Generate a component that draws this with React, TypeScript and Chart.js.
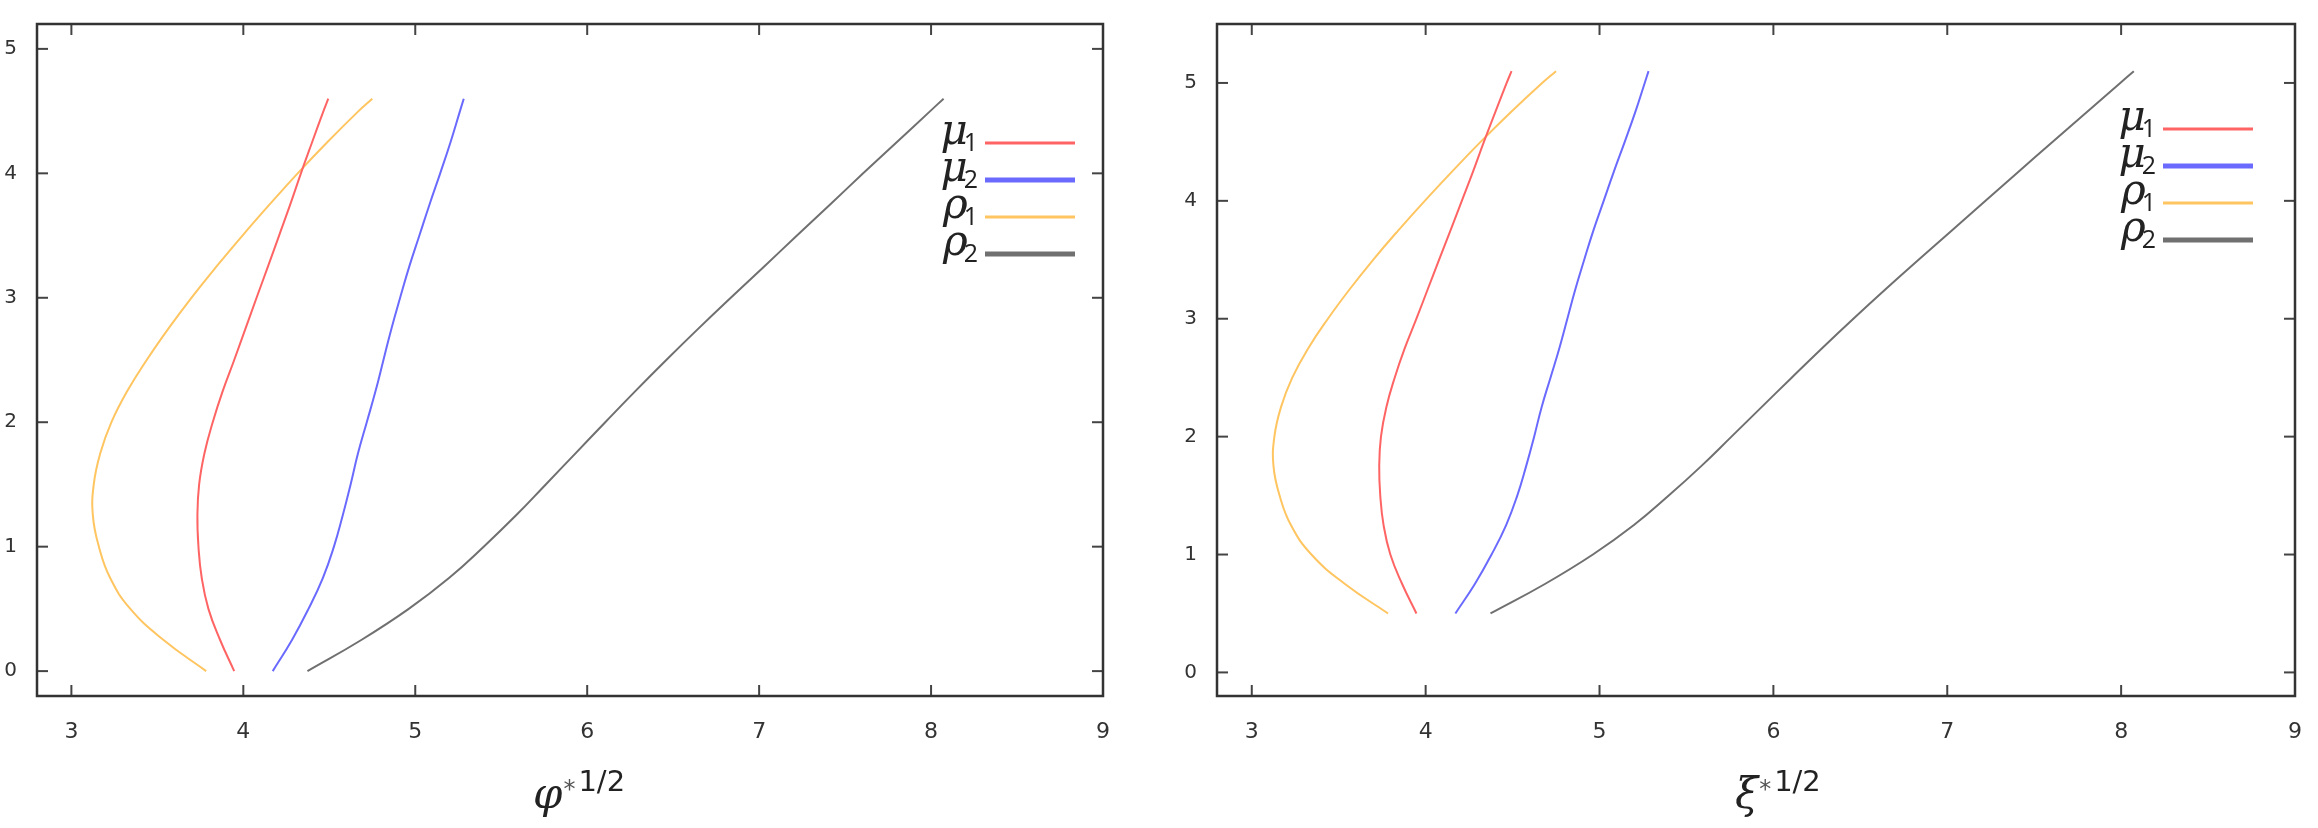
import React, { useEffect, useRef } from 'react';
import { Chart, registerables } from 'chart.js';

Chart.register(...registerables);

// ---- data ----
const xTicks = [3, 4, 5, 6, 7, 8, 9];
const yTicks = [0, 1, 2, 3, 4, 5];

const yLevelsLeft = [0, 0.25, 0.5, 0.75, 1, 1.25, 1.5, 1.75, 2, 2.25, 2.5, 2.75, 3, 3.25, 3.5, 3.75, 4, 4.25, 4.5, 4.6];
const yLevelsRight = [0.5, 0.75, 1, 1.25, 1.5, 1.75, 2, 2.25, 2.5, 2.75, 3, 3.25, 3.5, 3.75, 4, 4.25, 4.5, 4.75, 5, 5.1];

const mu1X = [3.947, 3.865, 3.797, 3.758, 3.739, 3.733, 3.743, 3.774, 3.822, 3.88, 3.947, 4.012, 4.077, 4.143, 4.208, 4.273, 4.335, 4.4, 4.466, 4.494];
const mu2X = [4.171, 4.283, 4.379, 4.463, 4.527, 4.578, 4.624, 4.667, 4.718, 4.769, 4.815, 4.861, 4.912, 4.965, 5.024, 5.083, 5.145, 5.205, 5.26, 5.282];
const rho1X = [3.784, 3.536, 3.343, 3.225, 3.16, 3.125, 3.13, 3.168, 3.233, 3.325, 3.438, 3.563, 3.698, 3.843, 3.995, 4.153, 4.316, 4.488, 4.67, 4.75];
const rho2X = [4.373, 4.686, 4.962, 5.198, 5.398, 5.585, 5.759, 5.932, 6.105, 6.28, 6.46, 6.645, 6.835, 7.028, 7.22, 7.413, 7.605, 7.8, 7.995, 8.073];

const seriesX = [mu1X, mu2X, rho1X, rho2X];
const seriesLetters = ['μ', 'μ', 'ρ', 'ρ'];
const seriesSubs = ['1', '2', '1', '2'];
const seriesColors = ['#ff6464', '#6a6aff', '#ffc560', '#707070'];
const legendLineWidths = [3, 5, 3, 5];

const axisLetters = ['φ', 'ξ'];
const axisSup = '1/2';

type Panel = {
  left: number;
  width: number;
  padTop: number;
  padRight: number;
  yWidth: number;
  yMax: number;
  yLevels: number[];
  letter: string;
  titleOffset: number;
  legendEnd: number;
  legendTop: number;
};

const panels: Panel[] = [
  { left: 0, width: 1160, padTop: 23, padRight: 57, yWidth: 37, yMax: 5.2, yLevels: yLevelsLeft, letter: axisLetters[0], titleOffset: -37, legendEnd: 1075, legendTop: 143 },
  { left: 1160, width: 1158, padTop: 16, padRight: 23, yWidth: 57, yMax: 5.5, yLevels: yLevelsRight, letter: axisLetters[1], titleOffset: -21, legendEnd: 1093, legendTop: 129 },
];

function makePlugin(p: Panel) {
  return {
    id: 'gnuframe',
    afterDraw(chart: any) {
      const { ctx, chartArea: a, scales } = chart;
      const xs = scales.x;
      const ys = scales.y;
      const line = (x1: number, y1: number, x2: number, y2: number) => {
        ctx.beginPath();
        ctx.moveTo(x1, y1);
        ctx.lineTo(x2, y2);
        ctx.stroke();
      };
      ctx.save();
      // inside ticks on all four sides
      ctx.strokeStyle = '#444';
      ctx.lineWidth = 2;
      xTicks.forEach((v) => {
        const px = xs.getPixelForValue(v);
        line(px, a.bottom, px, a.bottom - 11);
        line(px, a.top, px, a.top + 11);
      });
      yTicks.forEach((v) => {
        const py = ys.getPixelForValue(v);
        line(a.left, py, a.left + 11, py);
        line(a.right, py, a.right - 11, py);
      });
      // frame
      ctx.strokeStyle = '#333';
      ctx.lineWidth = 2.5;
      ctx.strokeRect(a.left, a.top, a.right - a.left, a.bottom - a.top);

      // legend
      ctx.textBaseline = 'alphabetic';
      ctx.textAlign = 'left';
      seriesLetters.forEach((letter, i) => {
        const y = p.legendTop + i * 37;
        const lineStart = p.legendEnd - 90;
        ctx.strokeStyle = seriesColors[i];
        ctx.lineWidth = legendLineWidths[i];
        line(lineStart, y, p.legendEnd, y);
        ctx.fillStyle = '#222';
        ctx.font = '25px "Open Sans"';
        const sw = ctx.measureText(seriesSubs[i]).width;
        const sx = lineStart - 7 - sw;
        ctx.fillText(seriesSubs[i], sx, y + 8);
        ctx.font = 'italic 42px "DejaVu Serif"';
        const mw = ctx.measureText(letter).width;
        ctx.fillText(letter, sx - mw + 4, y + 1);
      });

      // x-axis title with superscript
      const cx = (a.left + a.right) / 2 + p.titleOffset;
      ctx.fillStyle = '#222';
      ctx.font = 'italic 42px "DejaVu Serif"';
      const lw = ctx.measureText(p.letter).width;
      ctx.fillText(p.letter, cx, 808);
      ctx.fillStyle = '#555';
      ctx.font = '24px "DejaVu Sans"';
      const starX = cx + lw + 1;
      ctx.fillText('*', starX, 797);
      const stw = ctx.measureText('*').width;
      ctx.fillStyle = '#222';
      ctx.font = '29px "DejaVu Sans"';
      ctx.fillText(axisSup, starX + stw + 3, 791);
      ctx.restore();
    },
  };
}

function PanelChart({ p }: { p: Panel }) {
  const ref = useRef<HTMLCanvasElement | null>(null);
  useEffect(() => {
    if (!ref.current) return;
    const chart = new Chart(ref.current, {
      type: 'scatter',
      data: {
        datasets: seriesX.map((xsArr, i) => ({
          label: seriesLetters[i] + seriesSubs[i],
          data: xsArr.map((x, j) => ({ x, y: p.yLevels[j] })),
          showLine: true,
          borderColor: seriesColors[i],
          backgroundColor: seriesColors[i],
          borderWidth: 2,
          pointRadius: 0,
          tension: 0.45,
          fill: false,
        })),
      },
      options: {
        responsive: false,
        animation: false,
        devicePixelRatio: 1,
        events: [],
        layout: { padding: { top: p.padTop, right: p.padRight, left: 0, bottom: 0 } },
        plugins: { legend: { display: false }, tooltip: { enabled: false } },
        scales: {
          x: {
            type: 'linear',
            min: 2.8,
            max: 9,
            grid: { display: false },
            border: { display: false },
            afterBuildTicks: (s: any) => {
              s.ticks = xTicks.map((v) => ({ value: v }));
            },
            afterFit: (s: any) => {
              s.height = 132;
            },
            ticks: {
              padding: 15,
              color: '#333',
              maxRotation: 0,
              autoSkip: false,
              font: { family: 'DejaVu Sans', size: 22 },
            },
          },
          y: {
            type: 'linear',
            min: -0.2,
            max: p.yMax,
            grid: { display: false },
            border: { display: false },
            afterBuildTicks: (s: any) => {
              s.ticks = yTicks.map((v) => ({ value: v }));
            },
            afterFit: (s: any) => {
              s.width = p.yWidth;
            },
            ticks: {
              padding: 12,
              color: '#333',
              autoSkip: false,
              font: { family: 'DejaVu Sans', size: 20 },
            },
          },
        },
      } as any,
      plugins: [makePlugin(p)],
    });
    return () => chart.destroy();
  }, [p]);
  return (
    <canvas
      ref={ref}
      width={p.width}
      height={828}
      style={{ position: 'absolute', left: p.left, top: 0, width: p.width, height: 828 }}
    />
  );
}

export default function App() {
  return (
    <div style={{ position: 'fixed', left: 0, top: 0, width: 2318, height: 828, background: '#fff' }}>
      {panels.map((p, i) => (
        <PanelChart key={i} p={p} />
      ))}
    </div>
  );
}
